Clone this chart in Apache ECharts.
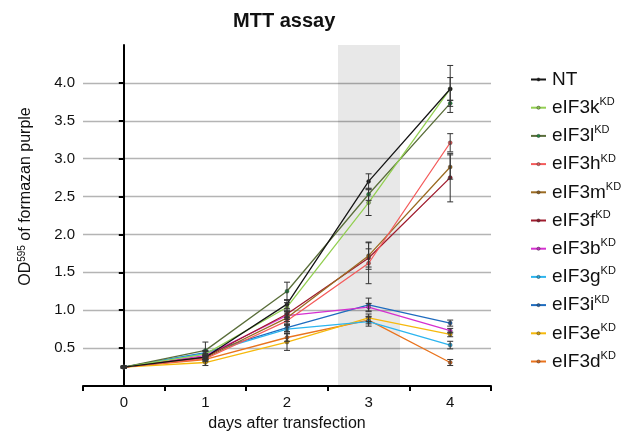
<!DOCTYPE html>
<html><head><meta charset="utf-8">
<script src="https://cdn.jsdelivr.net/npm/echarts@6/dist/echarts.min.js"></script>
<style>html,body{margin:0;padding:0;background:#fff}#c{width:632px;height:440px}</style>
</head><body><div id="c"></div>
<script>
const days = ['0', '1', '2', '3', '4'];
const seriesNames = ['NT', 'eIF3k', 'eIF3l', 'eIF3h', 'eIF3m', 'eIF3f', 'eIF3b', 'eIF3g', 'eIF3i', 'eIF3e', 'eIF3d'];
const yTicks = [0.5, 1.0, 1.5, 2.0, 2.5, 3.0, 3.5, 4.0];

const NT    = [0.25, 0.38, 1.08, 2.70, 3.92];
const eIF3k = [0.25, 0.42, 1.04, 2.42, 3.92];
const eIF3l = [0.25, 0.47, 1.25, 2.53, 3.73];
const eIF3h = [0.25, 0.36, 0.86, 1.62, 3.21];
const eIF3m = [0.25, 0.37, 0.90, 1.72, 2.89];
const eIF3f = [0.25, 0.38, 0.95, 1.69, 2.75];
const eIF3b = [0.25, 0.40, 0.93, 1.04, 0.73];
const eIF3g = [0.25, 0.43, 0.75, 0.85, 0.54];
const eIF3i = [0.25, 0.44, 0.77, 1.07, 0.83];
const eIF3e = [0.25, 0.31, 0.58, 0.90, 0.68];
const eIF3d = [0.25, 0.35, 0.64, 0.87, 0.31];

const NT_err    = [0.01, 0.03, 0.06, 0.10, 0.31];
const eIF3k_err = [0.01, 0.04, 0.06, 0.17, 0.15];
const eIF3l_err = [0.01, 0.11, 0.12, 0.08, 0.04];
const eIF3h_err = [0.01, 0.03, 0.05, 0.27, 0.12];
const eIF3m_err = [0.01, 0.03, 0.05, 0.18, 0.16];
const eIF3f_err = [0.01, 0.03, 0.05, 0.12, 0.32];
const eIF3b_err = [0.01, 0.03, 0.05, 0.05, 0.03];
const eIF3g_err = [0.01, 0.03, 0.05, 0.06, 0.05];
const eIF3i_err = [0.01, 0.03, 0.05, 0.09, 0.04];
const eIF3e_err = [0.01, 0.04, 0.11, 0.05, 0.03];
const eIF3d_err = [0.01, 0.03, 0.05, 0.05, 0.04];

const shadedDay = [2.625, 3.385];

const values = [NT, eIF3k, eIF3l, eIF3h, eIF3m, eIF3f, eIF3b, eIF3g, eIF3i, eIF3e, eIF3d];
const errors = [NT_err, eIF3k_err, eIF3l_err, eIF3h_err, eIF3m_err, eIF3f_err, eIF3b_err, eIF3g_err, eIF3i_err, eIF3e_err, eIF3d_err];
const lineColors = ['#151515', '#93cf52', '#5a6e3a', '#f45b5b', '#9b6b22', '#a01c2e', '#d530d0', '#2cb5ef', '#1f6cbf', '#f6b90c', '#e9731d'];
const dotColors  = ['#151515', '#8cc84b', '#1f8a3c', '#e65555', '#8f5f1a', '#8f1528', '#c42ac2', '#22a8e0', '#1a5fab', '#d9a000', '#d8661a'];

const FONT = 'Liberation Sans, Arial, sans-serif';

const chart = echarts.init(document.getElementById('c'), null, {renderer: 'canvas'});

const lineSeries = seriesNames.map((n, k) => ({
  name: n,
  type: 'line',
  data: values[k],
  symbol: 'circle',
  symbolSize: 4,
  lineStyle: {color: lineColors[k], width: 1.3},
  itemStyle: {color: dotColors[k], borderColor: '#333', borderWidth: 0.4},
  z: 3 + (seriesNames.length - k) * 0.01,
  animation: false
}));

const errData = [];
values.forEach((arr, k) => arr.forEach((v, i) => errData.push([i, v, errors[k][i]])));

option = {
  animation: false,
  title: {
    text: 'MTT assay', left: 228, top: 6,
    textStyle: {fontFamily: FONT, fontSize: 20, fontWeight: 'bold', color: '#111'}
  },
  grid: {left: 83, right: 141, top: 45, bottom: 54},
  legend: {
    orient: 'vertical', left: 525, top: 65,
    itemWidth: 15, itemHeight: 4, itemGap: 7.7,
    data: seriesNames,
    formatter: n => n === 'NT' ? '{a|NT}' : '{a|' + n + '}{b|KD}',
    itemStyle: {borderWidth: 0.5, borderColor: '#333'},
    textStyle: {
      fontFamily: FONT, color: '#111', padding: [0, 0, 0, 1],
      rich: {
        a: {fontFamily: FONT, fontSize: 19, color: '#111', lineHeight: 22},
        b: {fontFamily: FONT, fontSize: 11, color: '#111', verticalAlign: 'top', lineHeight: 12}
      }
    }
  },
  xAxis: [{
    type: 'category', data: days, boundaryGap: true,
    name: 'days after transfection', nameLocation: 'middle', nameGap: 30,
    nameTextStyle: {fontFamily: FONT, fontSize: 16, color: '#111'},
    axisLine: {lineStyle: {color: '#000', width: 2}},
    axisTick: {show: true, length: 5, lineStyle: {color: '#000', width: 2}},
    axisLabel: {fontFamily: FONT, fontSize: 15, color: '#111', margin: 9}
  }, {
    type: 'value', min: -0.5, max: 4.5, show: false
  }],
  yAxis: {
    type: 'value', min: 0, max: 4.5, interval: 0.5,
    name: '{a|OD}{b|595}{a| of formazan purple}', nameLocation: 'middle', nameGap: 48, nameRotate: 90,
    nameTextStyle: {
      fontFamily: FONT, fontSize: 16, color: '#111', padding: [0, 0, 0, 38],
      rich: {
        a: {fontFamily: FONT, fontSize: 16, color: '#111', lineHeight: 18},
        b: {fontFamily: FONT, fontSize: 10, color: '#111', verticalAlign: 'top', lineHeight: 10}
      }
    },
    axisLine: {show: true, lineStyle: {color: '#000', width: 2}},
    axisTick: {show: true, length: 5, customValues: yTicks, lineStyle: {color: '#000', width: 2}},
    axisLabel: {
      fontFamily: FONT, fontSize: 15, color: '#111', margin: 8, customValues: yTicks,
      formatter: v => v.toFixed(1)
    },
    splitLine: {show: true, lineStyle: {color: '#b4b4b4', width: 1.4}}
  },
  series: [{
    type: 'line', xAxisIndex: 1, data: [], silent: true,
    markArea: {
      silent: true,
      itemStyle: {color: 'rgba(0,0,0,0.09)'},
      data: [[{xAxis: shadedDay[0], yAxis: 0}, {xAxis: shadedDay[1], yAxis: 4.5}]]
    }
  }, {
    type: 'custom', name: 'err', data: errData, z: 4, silent: true,
    renderItem: (params, api) => {
      const x = api.value(0), v = api.value(1), e = api.value(2);
      const top = api.coord([x, v + e]);
      const bot = api.coord([x, v - e]);
      const w = 3;
      const st = {stroke: '#333', lineWidth: 1};
      return {type: 'group', children: [
        {type: 'line', shape: {x1: top[0], y1: top[1], x2: bot[0], y2: bot[1]}, style: st},
        {type: 'line', shape: {x1: top[0] - w, y1: top[1], x2: top[0] + w, y2: top[1]}, style: st},
        {type: 'line', shape: {x1: bot[0] - w, y1: bot[1], x2: bot[0] + w, y2: bot[1]}, style: st}
      ]};
    }
  }].concat(lineSeries)
};
chart.setOption(option);
</script></body></html>
